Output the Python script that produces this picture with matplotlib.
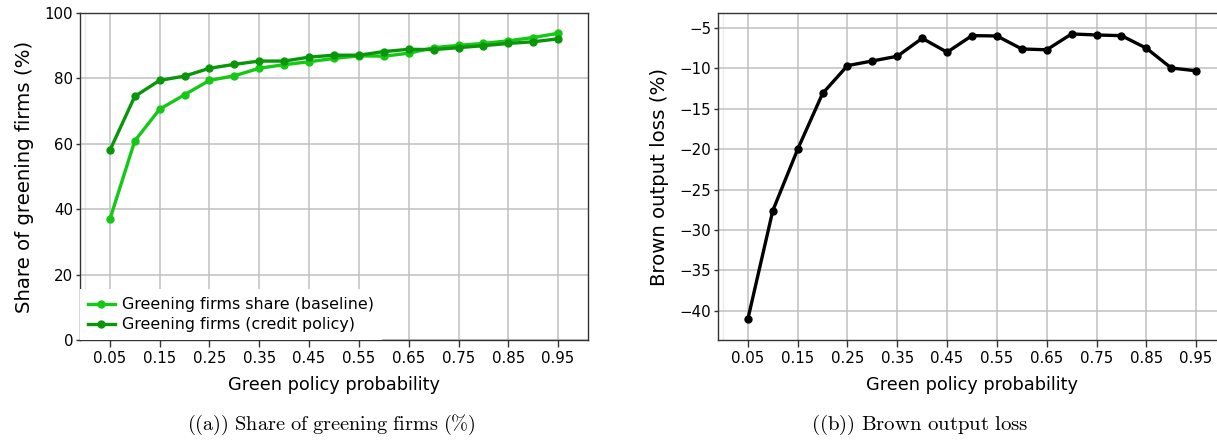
import numpy as np
import matplotlib
matplotlib.use('Agg')
import matplotlib.pyplot as plt

plt.rcParams.update({
    'font.family': 'DejaVu Sans',
    'mathtext.fontset': 'cm',
    'axes.edgecolor': '#333333',
    'axes.linewidth': 1.0,
})

# green policy probability (x axis for both panels)
probs = [0.05, 0.10, 0.15, 0.20, 0.25, 0.30, 0.35, 0.40, 0.45, 0.50,
         0.55, 0.60, 0.65, 0.70, 0.75, 0.80, 0.85, 0.90, 0.95]

# panel (a): share of greening firms (%)
share_baseline = [36.9, 60.9, 70.6, 75.0, 79.4, 80.8, 83.1, 84.2, 85.1, 86.1,
                  86.9, 86.8, 87.7, 89.4, 90.1, 90.7, 91.5, 92.5, 93.8]
share_credit = [58.0, 74.5, 79.4, 80.7, 83.1, 84.3, 85.3, 85.3, 86.5, 87.1,
                87.1, 88.2, 88.9, 88.8, 89.4, 90.0, 90.7, 91.2, 92.1]

# panel (b): brown output loss (%)
brown_loss = [-41.0, -27.6, -20.0, -13.1, -9.66, -9.08, -8.5, -6.28, -8.0, -5.95,
              -5.99, -7.6, -7.7, -5.74, -5.87, -5.95, -7.5, -9.95, -10.3]

xtick_vals = [0.05, 0.15, 0.25, 0.35, 0.45, 0.55, 0.65, 0.75, 0.85, 0.95]
yticks_a = [0, 20, 40, 60, 80, 100]
yticks_b = [-40, -35, -30, -25, -20, -15, -10, -5]

COLOR_BASE = '#15c815'
COLOR_CREDIT = '#0a960a'
GRID = '#c0c0c0'

W, H = 1217, 444
fig = plt.figure(figsize=(W / 100, H / 100), dpi=100)

ax_w = 508 / W
ax_b = (H - 340) / H
ax_h = 327 / H
ax1 = fig.add_axes([80 / W, ax_b, ax_w, ax_h])
ax2 = fig.add_axes([718 / W, ax_b, ax_w, ax_h])


def style_axis(ax, yticks):
    ax.set_xlim(-0.01, 1.01)
    ax.set_xticks(xtick_vals)
    ax.set_xticklabels([f'{v:.2f}' for v in xtick_vals])
    ax.set_yticks(yticks)
    ax.grid(True, color=GRID, linewidth=1.1)
    ax.axvline(0.0, color='#ececec', linewidth=1.0, zorder=0.5)
    ax.set_axisbelow(True)
    ax.tick_params(axis='x', length=5, width=1, color='#333333',
                   labelsize=10.8, pad=3)
    ax.tick_params(axis='y', length=3, width=1, color='#333333',
                   labelsize=10.8, pad=2)
    ax.set_xlabel('Green policy probability', fontsize=12.8, labelpad=7)


# panel (a)
ax1.plot(probs, share_baseline, color=COLOR_BASE, lw=2.4, marker='o', ms=5,
         label='Greening firms share (baseline)')
ax1.plot(probs, share_credit, color=COLOR_CREDIT, lw=2.4, marker='o', ms=5,
         label='Greening firms (credit policy)')
ax1.set_ylim(0, 100)
style_axis(ax1, yticks_a)
ax1.set_ylabel('Share of greening firms (%)', fontsize=14.2, labelpad=7.5)
leg = ax1.legend(loc='lower left', borderaxespad=0, fontsize=11.4,
                 frameon=True, fancybox=False, handlelength=1.7,
                 handletextpad=0.45, borderpad=0.5, labelspacing=0.3)
leg.get_frame().set_edgecolor('none')
leg.get_frame().set_facecolor('white')
leg.get_frame().set_alpha(1.0)

# panel (b)
ax2.plot(probs, brown_loss, color='black', lw=2.4, marker='o', ms=5)
ax2.set_ylim(-43.6, -3.15)
style_axis(ax2, yticks_b)
ax2.set_yticklabels([f'\u2212{abs(v)}' for v in yticks_b])
ax2.set_ylabel('Brown output loss (%)', fontsize=14.2, labelpad=7.5)

# sub-captions
fig.text(331 / W, (H - 425) / H, r'$\mathrm{((a))\ Share\ of\ greening\ firms\ (\%)}$',
         ha='center', va='center', fontsize=14.6)
fig.text(920 / W, (H - 425) / H, r'$\mathrm{((b))\ Brown\ output\ loss}$',
         ha='center', va='center', fontsize=15)

fig.savefig('out.png', dpi=100)
